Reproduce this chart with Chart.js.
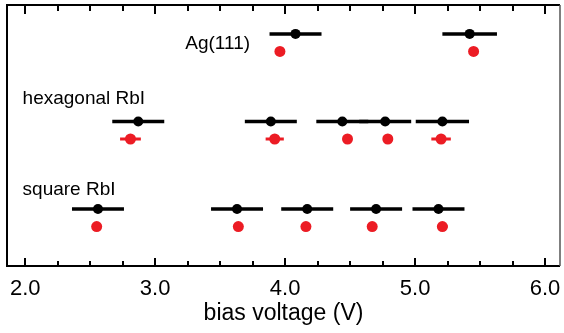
<!DOCTYPE html>
<html>
<head>
<meta charset="utf-8">
<script src="https://cdn.jsdelivr.net/npm/chart.js@4.4.1/dist/chart.umd.min.js"></script>
<style>
  html, body { margin: 0; padding: 0; background: #fff; }
</style>
</head>
<body>
<canvas id="myChart" width="564" height="333"></canvas>
<script>
// rows on the hidden y axis (black = upper marker, red = lower marker)
const rowNames = ["square RbI", "hexagonal RbI", "Ag(111)"];
const rowLevels = [1, 2, 3];
const redOffset = 0.2;

// Ag(111)
const agBlack = [4.08, 5.42];
const agBlackErr = [0.2, 0.21];
const agRed = [3.96, 5.45];
const agRedErr = [0, 0];

// hexagonal RbI
const hexBlack = [2.87, 3.89, 4.44, 4.77, 5.21];
const hexBlackErr = [0.2, 0.2, 0.2, 0.2, 0.205];
const hexRed = [2.81, 3.92, 4.48, 4.79, 5.2];
const hexRedErr = [0.08, 0.07, 0, 0, 0.075];

// square RbI
const sqBlack = [2.56, 3.63, 4.17, 4.7, 5.18];
const sqBlackErr = [0.2, 0.2, 0.2, 0.2, 0.2];
const sqRed = [2.55, 3.64, 4.16, 4.67, 5.21];
const sqRedErr = [0, 0, 0, 0, 0.04];

const tickLabels = [2.0, 3.0, 4.0, 5.0, 6.0];
const minorStep = 0.25;

const RED = "#ec1c24";
const FONT = "'Liberation Sans', Arial, sans-serif";

//Build one scatter dataset for a row
function makeSet(xs, errs, level, color, radius, barWidth) {
  return {
    data: xs.map((x) => ({ x: x, y: level })),
    errors: errs,
    barWidth: barWidth,
    backgroundColor: color,
    borderColor: color,
    pointRadius: radius,
    pointHoverRadius: radius,
    borderWidth: 0,
  };
}

const datasets = [
  makeSet(agBlack, agBlackErr, rowLevels[2], "#000", 5, 3.5),
  makeSet(agRed, agRedErr, rowLevels[2] - redOffset, RED, 5.5, 3),
  makeSet(hexBlack, hexBlackErr, rowLevels[1], "#000", 5, 3.5),
  makeSet(hexRed, hexRedErr, rowLevels[1] - redOffset, RED, 5.5, 3),
  makeSet(sqBlack, sqBlackErr, rowLevels[0], "#000", 5, 3.5),
  makeSet(sqRed, sqRedErr, rowLevels[0] - redOffset, RED, 5.5, 3),
];

//Horizontal error bars drawn through the chart scales
const errorBars = {
  id: "errorBars",
  beforeDatasetsDraw(chart) {
    const { ctx, scales: { x, y } } = chart;
    ctx.save();
    chart.data.datasets.forEach((ds) => {
      ctx.strokeStyle = ds.borderColor;
      ctx.lineWidth = ds.barWidth;
      ds.data.forEach((p, i) => {
        const e = ds.errors[i];
        if (!e) return;
        const py = y.getPixelForValue(p.y);
        ctx.beginPath();
        ctx.moveTo(x.getPixelForValue(p.x - e), py);
        ctx.lineTo(x.getPixelForValue(p.x + e), py);
        ctx.stroke();
      });
    });
    ctx.restore();
  },
};

//Frame with inward tick marks and the row labels
const frame = {
  id: "frame",
  afterDraw(chart) {
    const { ctx, chartArea: a, scales: { x, y } } = chart;
    ctx.save();
    ctx.strokeStyle = "#000";
    ctx.lineWidth = 2;
    ctx.beginPath();
    ctx.moveTo(a.right, a.top);
    ctx.lineTo(a.left, a.top);
    ctx.lineTo(a.left, a.bottom);
    ctx.lineTo(a.right, a.bottom);
    ctx.stroke();
    ctx.strokeStyle = "#555";
    ctx.lineWidth = 1.5;
    ctx.beginPath();
    ctx.moveTo(a.right, a.top);
    ctx.lineTo(a.right, a.bottom);
    ctx.stroke();

    ctx.strokeStyle = "#000";
    ctx.lineWidth = 2;
    for (let v = tickLabels[0]; v <= tickLabels[tickLabels.length - 1] + 1e-6; v += minorStep) {
      const px = Math.round(x.getPixelForValue(v));
      const major = Math.abs(v - Math.round(v)) < 1e-6;
      ctx.beginPath();
      ctx.moveTo(px, a.bottom);
      ctx.lineTo(px, a.bottom - (major ? 8 : 5));
      ctx.moveTo(px, a.top);
      ctx.lineTo(px, a.top + (major ? 9 : 6));
      ctx.stroke();
    }

    ctx.fillStyle = "#000";
    ctx.font = "19px " + FONT;
    ctx.textBaseline = "middle";
    ctx.textAlign = "left";
    ctx.fillText(rowNames[1], x.getPixelForValue(1.98), y.getPixelForValue(rowLevels[1] + 0.26));
    ctx.fillText(rowNames[0], x.getPixelForValue(1.98), y.getPixelForValue(rowLevels[0] + 0.22));
    ctx.textAlign = "right";
    ctx.fillText(rowNames[2], x.getPixelForValue(3.73), y.getPixelForValue(rowLevels[2] - 0.11));
    ctx.restore();
  },
};

const ctx = document.getElementById("myChart").getContext("2d");

new Chart(ctx, {
  type: "scatter",
  data: { datasets: datasets },
  options: {
    responsive: false,
    animation: false,
    layout: { autoPadding: false, padding: { top: 5, left: 7, right: 4, bottom: 8 } },
    plugins: { legend: { display: false }, tooltip: { enabled: false } },
    scales: {
      x: {
        type: "linear",
        min: 1.86,
        max: 6.115,
        afterBuildTicks: (scale) => {
          scale.ticks = tickLabels.map((v) => ({ value: v }));
        },
        // fixed axis height, no extra side padding for the end labels
        afterFit: (scale) => {
          scale.height = 59;
          scale.paddingLeft = 0;
          scale.paddingRight = 0;
        },
        ticks: {
          callback: (v) => Number(v).toFixed(1),
          color: "#000",
          font: { family: FONT, size: 22, lineHeight: 1 },
          padding: 12,
          maxRotation: 0,
          autoSkip: false,
        },
        grid: { display: false, drawTicks: false },
        border: { display: false },
        title: {
          display: true,
          text: "bias voltage (V)",
          color: "#000",
          font: { family: FONT, size: 23, lineHeight: 1 },
          padding: { top: 4, bottom: 0 },
        },
      },
      y: {
        type: "linear",
        display: false,
        min: 0.35,
        max: 3.33,
      },
    },
  },
  plugins: [errorBars, frame],
});
</script>
</body>
</html>
